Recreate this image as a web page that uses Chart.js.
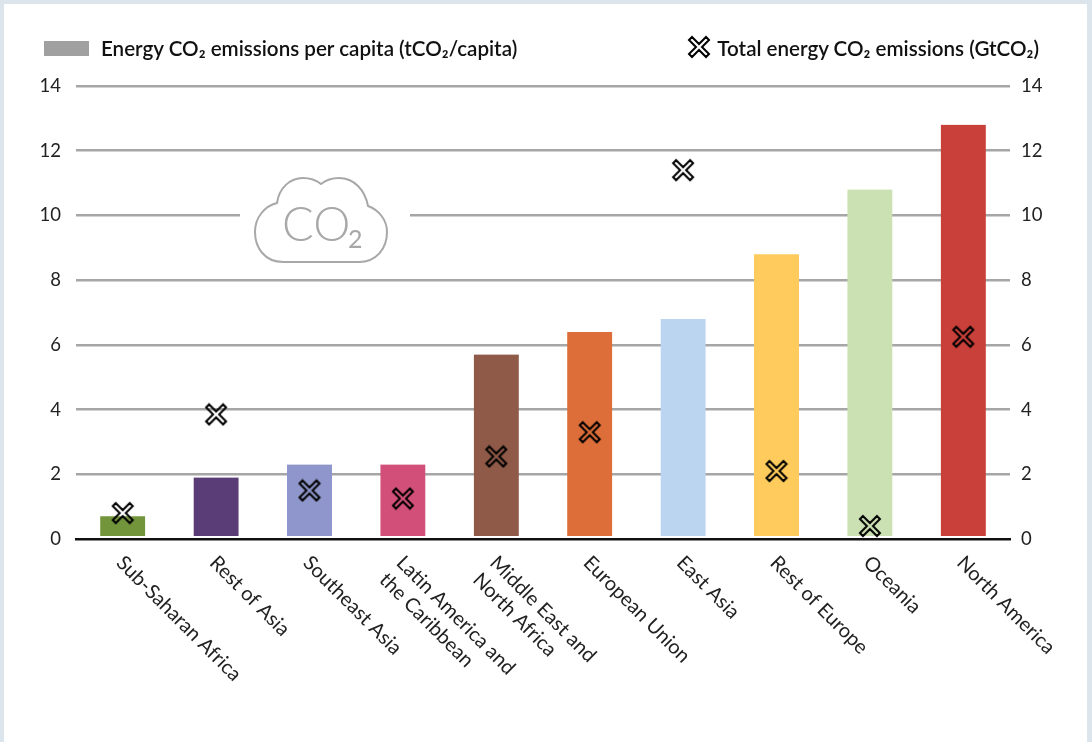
<!DOCTYPE html>
<html>
<head>
<meta charset="utf-8">
<script src="https://cdn.jsdelivr.net/npm/chart.js@4"></script>
<style>
    html, body { margin: 0; padding: 0; background: #dde5ec; }
    body { width: 1092px; height: 742px; position: relative; overflow: hidden; font-family: Lato, sans-serif; }
    #panel { position: absolute; left: 4px; top: 4px; width: 1083px; height: 738px; background: #fff; }
    canvas#chart { position: absolute; left: 0; top: 0; }
    .legend { position: absolute; top: 36px; font-size: 20.6px; font-weight: 600; color: #111; line-height: 24px; white-space: nowrap; }
    #swatch { position: absolute; left: 44px; top: 41px; width: 45px; height: 15px; background: #a0a0a0; }
    #legend-cross { position: absolute; left: 687px; top: 35px; }
</style>
</head>
<body>
<div id="panel"></div>
<canvas id="chart" width="1092" height="742"></canvas>
<div id="swatch"></div>
<div class="legend" style="left:101px">Energy CO₂ emissions per capita (tCO₂/capita)</div>
<div class="legend" style="right:53px">Total energy CO₂ emissions (GtCO₂)</div>
<script>
const categories = ['Sub-Saharan Africa', 'Rest of Asia', 'Southeast Asia', ['Latin America and', 'the Caribbean'], ['Middle East and', 'North Africa'], 'European Union', 'East Asia', 'Rest of Europe', 'Oceania', 'North America'];
const perCapita = [0.7, 1.9, 2.3, 2.3, 5.7, 6.4, 6.8, 8.8, 10.8, 12.8];
const totalEmissions = [0.8, 3.85, 1.5, 1.25, 2.55, 3.3, 11.4, 2.1, 0.4, 6.25];
const barColors = ['#72953c', '#5a3d77', '#8f96cb', '#d14f79', '#8f5a48', '#dd6e3a', '#bbd4f0', '#fecb5c', '#cbe0b3', '#c9403a'];

// Kruisje als marker, van binnen doorzichtig
function makeCross() {
    const c = document.createElement('canvas');
    c.width = 24;
    c.height = 24;
    const g = c.getContext('2d');
    g.beginPath();
    [[5, 2], [12, 9], [19, 2], [22, 5], [15, 12], [22, 19], [19, 22], [12, 15], [5, 22], [2, 19], [9, 12], [2, 5]]
        .forEach((p, i) => i ? g.lineTo(p[0], p[1]) : g.moveTo(p[0], p[1]));
    g.closePath();
    g.lineWidth = 2;
    g.strokeStyle = '#000';
    g.stroke();
    return c;
}

const legendCross = makeCross();
legendCross.id = 'legend-cross';
document.body.appendChild(legendCross);

// Wolk met CO2 op de lijn van 10
const cloudPlugin = {
    id: 'cloud',
    beforeDatasetsDraw(chart) {
        const ctx = chart.ctx;
        const y = chart.scales.y.getPixelForValue(10);
        ctx.save();
        ctx.fillStyle = '#fff';
        ctx.fillRect(240, y - 3, 170, 6);
        ctx.strokeStyle = '#a8a8a8';
        ctx.lineWidth = 2;
        ctx.beginPath();
        ctx.moveTo(283, 262);
        ctx.bezierCurveTo(265, 262, 255, 248, 255, 232);
        ctx.bezierCurveTo(255, 217, 265, 206, 277, 203);
        ctx.bezierCurveTo(279, 188, 290, 178, 303, 178);
        ctx.bezierCurveTo(310, 178, 316, 180, 321, 184);
        ctx.bezierCurveTo(326, 180, 332, 178, 339, 178);
        ctx.bezierCurveTo(354, 178, 365, 190, 368, 206);
        ctx.bezierCurveTo(379, 210, 387, 220, 387, 232);
        ctx.bezierCurveTo(387, 249, 376, 262, 359, 262);
        ctx.closePath();
        ctx.stroke();
        ctx.fillStyle = '#a8a8a8';
        ctx.textAlign = 'left';
        ctx.textBaseline = 'alphabetic';
        ctx.font = '300 47px Lato';
        ctx.fillText('CO', 282, 241);
        ctx.font = '400 25px Lato';
        ctx.fillText('2', 348, 248);
        ctx.restore();
    }
};

new Chart(document.getElementById('chart'), {
    data: {
        labels: categories,
        datasets: [
            {
                type: 'line',
                label: 'Total energy CO₂ emissions (GtCO₂)',
                data: totalEmissions,
                yAxisID: 'y2',
                showLine: false,
                pointStyle: makeCross(),
                order: 0
            },
            {
                type: 'bar',
                label: 'Energy CO₂ emissions per capita (tCO₂/capita)',
                data: perCapita,
                yAxisID: 'y',
                backgroundColor: barColors,
                barThickness: 45,
                borderSkipped: false,
                borderWidth: { top: 0, left: 0, right: 0, bottom: 2 },
                borderColor: '#fff',
                order: 1
            }
        ]
    },
    options: {
        responsive: false,
        animation: false,
        layout: { padding: { left: 0, right: 0, top: 86, bottom: 0 } },
        plugins: { legend: { display: false }, tooltip: { enabled: false } },
        scales: {
            x: {
                beforeUpdate(scale) {
                    // labels beginnen onder de balk en lopen naar rechtsonder
                    scale._getXAxisLabelAlignment = () => 'left';
                },
                afterFit(scale) {
                    scale.height = 203;
                    scale.paddingLeft = 0;
                    scale.paddingRight = 0;
                },
                grid: { display: false },
                border: { color: '#111', width: 2.5, z: 1 },
                ticks: {
                    autoSkip: false,
                    minRotation: -45,
                    maxRotation: -45,
                    padding: 4,
                    labelOffset: -3,
                    color: '#222',
                    font: { family: 'Lato', size: 20 }
                }
            },
            y: {
                position: 'left',
                min: 0,
                max: 14,
                afterFit(scale) { scale.width = 76; },
                border: { display: false },
                grid: {
                    color: ctx => ctx.tick.value === 0 ? 'rgba(0,0,0,0)' : '#a6a6a6',
                    lineWidth: 2.5,
                    drawTicks: false
                },
                ticks: {
                    stepSize: 2,
                    padding: 15,
                    color: '#222',
                    font: { family: 'Lato', size: 18.5 }
                }
            },
            y2: {
                position: 'right',
                min: 0,
                max: 14,
                afterFit(scale) { scale.width = 82; },
                border: { display: false },
                grid: { display: false, drawTicks: false },
                ticks: {
                    stepSize: 2,
                    padding: 11,
                    color: '#222',
                    font: { family: 'Lato', size: 18.5 }
                }
            }
        }
    },
    plugins: [cloudPlugin]
});
</script>
</body>
</html>
